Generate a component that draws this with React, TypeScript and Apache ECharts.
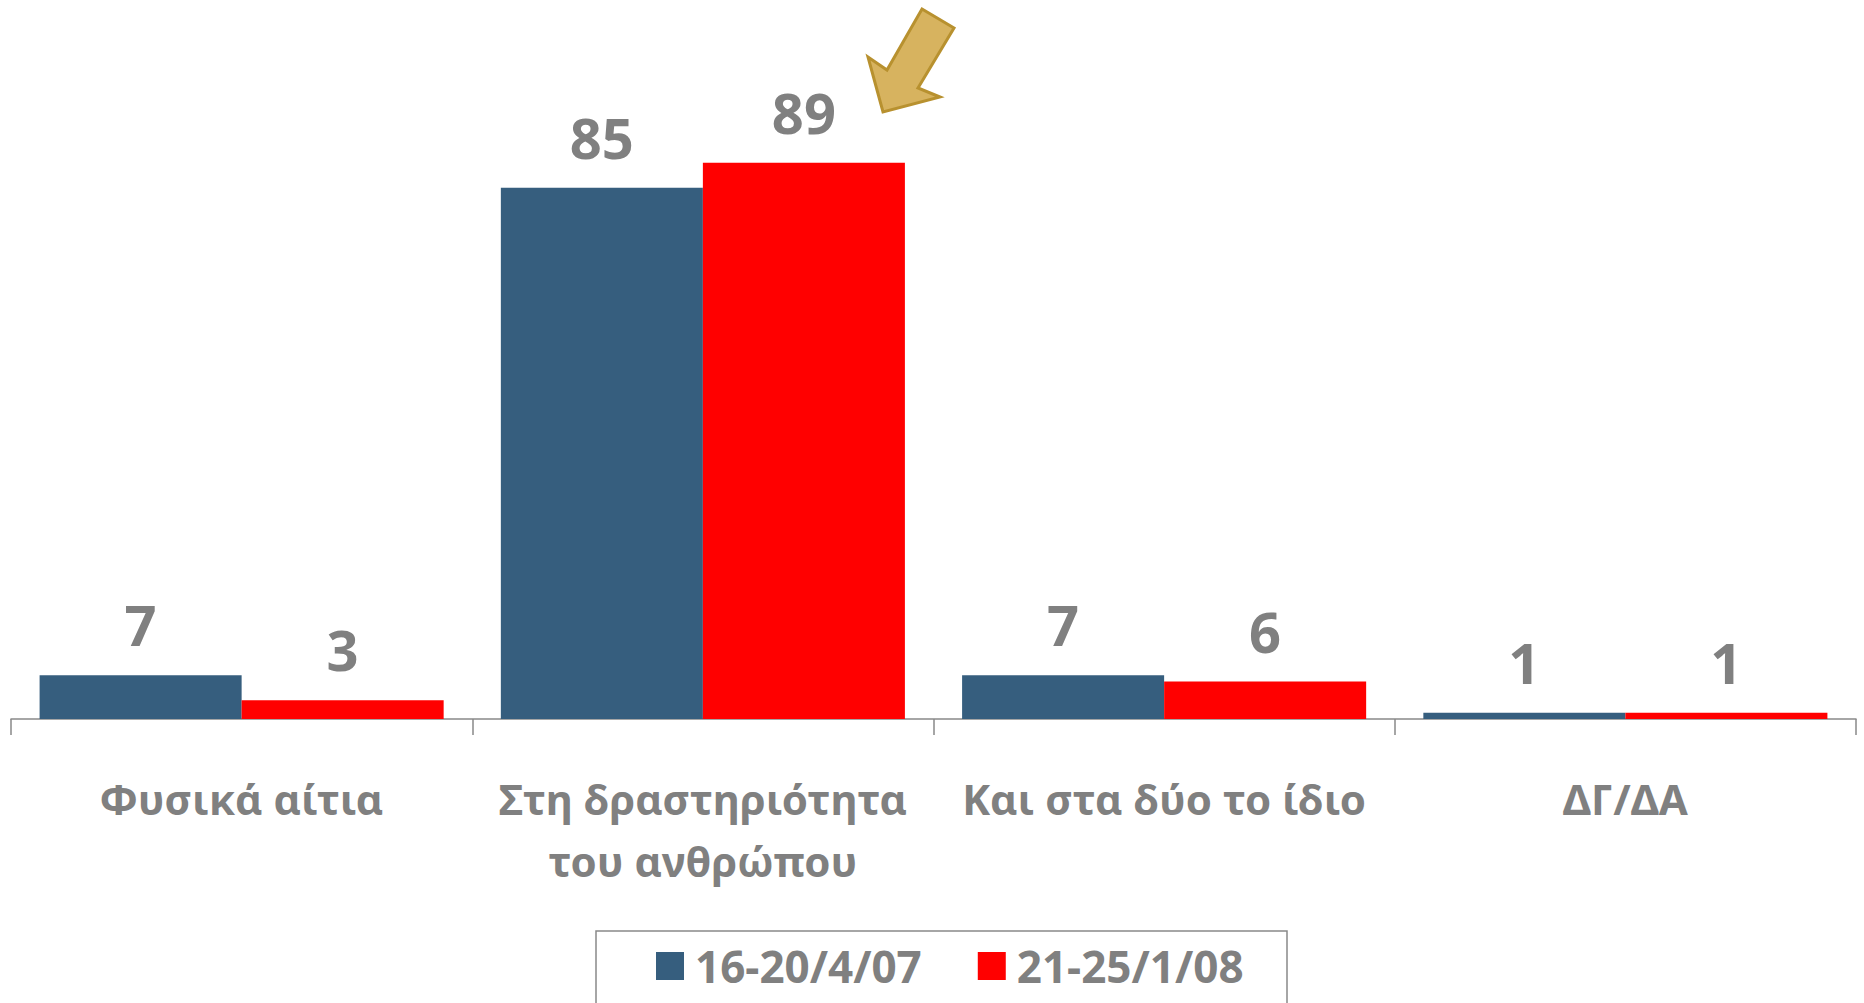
import React, { useEffect, useRef } from "react";
import * as echarts from "echarts";

const categories = ["Φυσικά αίτια", "Στη δραστηριότητα\nτου ανθρώπου", "Και στα δύο το ίδιο", "ΔΓ/ΔΑ"];
const seriesNames = ["16-20/4/07", "21-25/1/08"];
const valuesA = [7, 85, 7, 1];
const valuesB = [3, 89, 6, 1];
const colors = ["#365E7E", "#FF0000"];

const GRAY = "#808080";
const FONT = "'Noto Sans', 'Open Sans', sans-serif";

export default function App() {
  const ref = useRef<HTMLDivElement>(null);
  useEffect(() => {
    document.body.style.margin = "0";
    const chart = echarts.init(ref.current!, null, { renderer: "svg" });
    const labelCfg = {
      show: true,
      position: "top",
      distance: 23,
      color: GRAY,
      fontSize: 56,
      fontWeight: "bold",
      fontFamily: FONT,
    };
    chart.setOption({
      animation: false,
      backgroundColor: "#ffffff",
      grid: { left: 11, right: 8, top: 94, bottom: 284, containLabel: false },
      legend: {
        data: seriesNames,
        left: 656,
        top: 944,
        padding: 0,
        itemWidth: 28,
        itemHeight: 28,
        itemGap: 56,
        icon: "rect",
        textStyle: {
          color: GRAY,
          fontSize: 44,
          fontWeight: "bold",
          fontFamily: FONT,
          padding: [0, 0, 0, 6],
        },
      },
      xAxis: {
        type: "category",
        data: categories,
        axisLine: { lineStyle: { color: "#898989", width: 1.5 } },
        axisTick: { show: true, length: 16, lineStyle: { color: "#898989", width: 1.5 } },
        axisLabel: {
          interval: 0,
          margin: 48,
          color: GRAY,
          fontSize: 42,
          fontWeight: "bold",
          fontFamily: FONT,
          lineHeight: 62,
          verticalAlign: "top",
        },
      },
      yAxis: { type: "value", show: false, min: 0, max: 100 },
      series: [
        {
          type: "bar",
          name: seriesNames[0],
          data: valuesA,
          itemStyle: { color: colors[0] },
          barGap: "0%",
          barCategoryGap: "12.4%",
          label: labelCfg,
        },
        {
          type: "bar",
          name: seriesNames[1],
          data: valuesB,
          itemStyle: { color: colors[1] },
          barGap: "0%",
          barCategoryGap: "12.4%",
          label: labelCfg,
        },
      ],
      graphic: [
        {
          type: "rect",
          shape: { x: 596, y: 931, width: 691, height: 100 },
          style: { fill: "none", stroke: "#898989", lineWidth: 1.5 },
          silent: true,
        },
        {
          type: "polygon",
          shape: {
            points: [
              [922, 9],
              [954, 28],
              [918, 88],
              [940, 97],
              [883, 112],
              [868, 57],
              [887, 70],
            ],
          },
          style: { fill: "#D7B35F", stroke: "#B8912F", lineWidth: 3, lineJoin: "miter" },
          silent: true,
        },
      ],
    });
    return () => chart.dispose();
  }, []);
  return <div ref={ref} style={{ width: 1864, height: 1003 }} />;
}
